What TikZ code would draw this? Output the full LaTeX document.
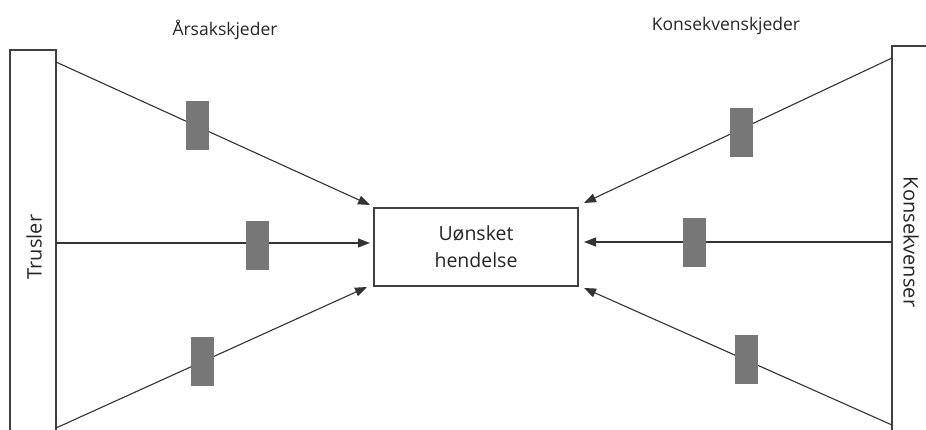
\documentclass[tikz,border=0pt]{standalone}
\usepackage{fontspec}
\setmainfont{Open Sans}
\usetikzlibrary{arrows.meta}
\definecolor{edge}{HTML}{404040}
\definecolor{chain}{HTML}{777777}
\begin{document}
\begin{tikzpicture}[x=1pt,y=-1pt,
  frame/.style={draw=edge,line width=2pt,fill=white},
  barrier/.style={fill=chain,draw=none,minimum width=23pt,minimum height=49pt,inner sep=0pt},
  link/.style={draw=black!80,line width=1.1pt,-{Triangle[length=12pt,width=9pt]}},
  label/.style={font=\fontsize{17.5}{19}\selectfont,text=black!85},
  sidelabel/.style={font=\fontsize{20}{22}\selectfont,text=black!85}]
\useasboundingbox[fill=white] (0,0) rectangle (926,430);
% side frames
\draw[frame] (10,50) rectangle (56,445);
\draw[frame] (892,46) rectangle (945,445);
\node[sidelabel,rotate=90] (trusler) at (34,247) {Trusler};
\node[sidelabel,rotate=-90] (kons) at (911,242) {Konsekvenser};
% centre box
\node[frame,minimum width=204pt,minimum height=78pt,align=center,
  font=\fontsize{19.5}{27}\selectfont,text=black!85] (event) at (476,247) {Uønsket\\hendelse};
% headings
\node[label] (aars) at (225,30) {Årsakskjeder};
\node[label] (konsk) at (726,26) {Konsekvenskjeder};
% connector ends
\coordinate (l1) at (56,62);
\coordinate (l2) at (56,243);
\coordinate (l3) at (56,428);
\coordinate (r1) at (892,58);
\coordinate (r2) at (892,242);
\coordinate (r3) at (892,425);
\coordinate (tl1) at (370,205);
\coordinate (tl2) at (370,243);
\coordinate (tl3) at (367,287);
\coordinate (tr1) at (584,203);
\coordinate (tr2) at (584,242);
\coordinate (tr3) at (584,288);
\draw[link] (l1) -- (tl1);
\draw[link] (l2) -- (tl2);
\draw[link] (l3) -- (tl3);
\draw[link] (r1) -- (tr1);
\draw[link] (r2) -- (tr2);
\draw[link] (r3) -- (tr3);
% barriers
\node[barrier] (b1) at (197,126) {};
\node[barrier] (b2) at (257,246) {};
\node[barrier] (b3) at (202,361) {};
\node[barrier] (b4) at (741,133) {};
\node[barrier] (b5) at (694,243) {};
\node[barrier] (b6) at (746,359) {};
\end{tikzpicture}
\end{document}
